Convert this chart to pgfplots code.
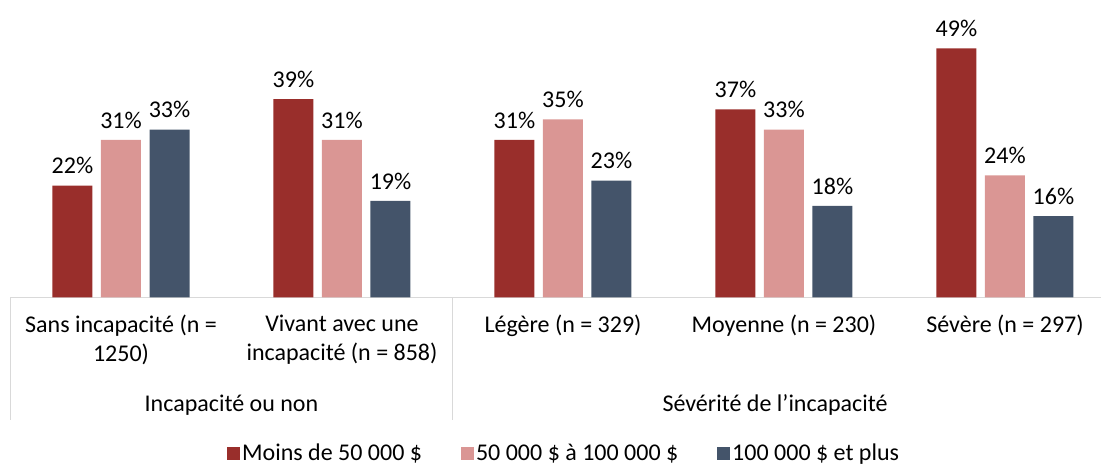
\documentclass[border=0pt]{standalone}
\usepackage{fontspec}
\setmainfont{Carlito}
\usepackage{pgfplots}
\pgfplotsset{compat=1.18}
\definecolor{c1}{HTML}{992E2B}
\definecolor{c2}{HTML}{DA9694}
\definecolor{c3}{HTML}{44546A}
\definecolor{gl}{HTML}{D9D9D9}
\newcommand{\lbl}{\fontsize{24bp}{29bp}\selectfont}
\begin{document}
\begin{tikzpicture}[x=1bp,y=1bp]
\useasboundingbox (0,0) rectangle (1101,465);
\begin{axis}[
  at={(10.5bp,167.5bp)}, anchor=south west,
  scale only axis, width=1105bp, height=279.7bp,
  xmin=-0.5, xmax=4.5, ymin=0, ymax=55,
  clip=false,
  hide y axis,
  axis x line*=bottom,
  x axis line style={gl, line width=1.2bp},
  xtick={0,1,2,3,4},
  major tick length=0pt,
  xticklabels={{Sans incapacité (n =\\1250)},{Vivant avec une\\incapacité (n = 858)},{Légère (n = 329)},{Moyenne (n = 230)},{Sévère (n = 297)}},
  x tick label style={font=\lbl, align=center, anchor=north, yshift=-14bp},
  ybar,
  bar width=0.181,
  /pgf/number format/assume math mode=true,
  nodes near coords={\pgfmathprintnumber{\pgfplotspointmeta}\%},
  every node near coord/.append style={font=\lbl, text=black, yshift=8bp},
  legend columns=3,
  legend style={draw=none, fill=none, font=\lbl, at={(rel axis cs:0.1932,-0.555)}, anchor=west,
    nodes={inner ysep=1bp},
    /tikz/every even column/.append style={column sep=37bp}},
  legend image code/.code={\fill[#1] (0bp,-7bp) rectangle (13bp,6bp);},
]
\addplot[fill=c1, draw=none, bar shift=-0.2195] coordinates {(0,22) (1,39) (2,31) (3,37) (4,49)};
\addplot[fill=c2, draw=none, bar shift=0] coordinates {(0,31) (1,31) (2,35) (3,33) (4,24)};
\addplot[fill=c3, draw=none, bar shift=0.2195] coordinates {(0,33) (1,19) (2,23) (3,18) (4,16)};
\legend{Moins de 50 000 \$, 50 000 \$ à 100 000 \$, 100 000 \$ et plus}
\draw[gl, line width=1.2bp] (rel axis cs:0,0) -- ([yshift=-123bp]rel axis cs:0,0);
\draw[gl, line width=1.2bp] (rel axis cs:0.4,0) -- ([yshift=-123bp]rel axis cs:0.4,0);
\node[font=\lbl, anchor=base] at ([yshift=-114.5bp]rel axis cs:0.2,0) {Incapacité ou non};
\node[font=\lbl, anchor=base] at ([yshift=-114.5bp]rel axis cs:0.6919,0) {Sévérité de l’incapacité};
\end{axis}
\end{tikzpicture}
\end{document}
